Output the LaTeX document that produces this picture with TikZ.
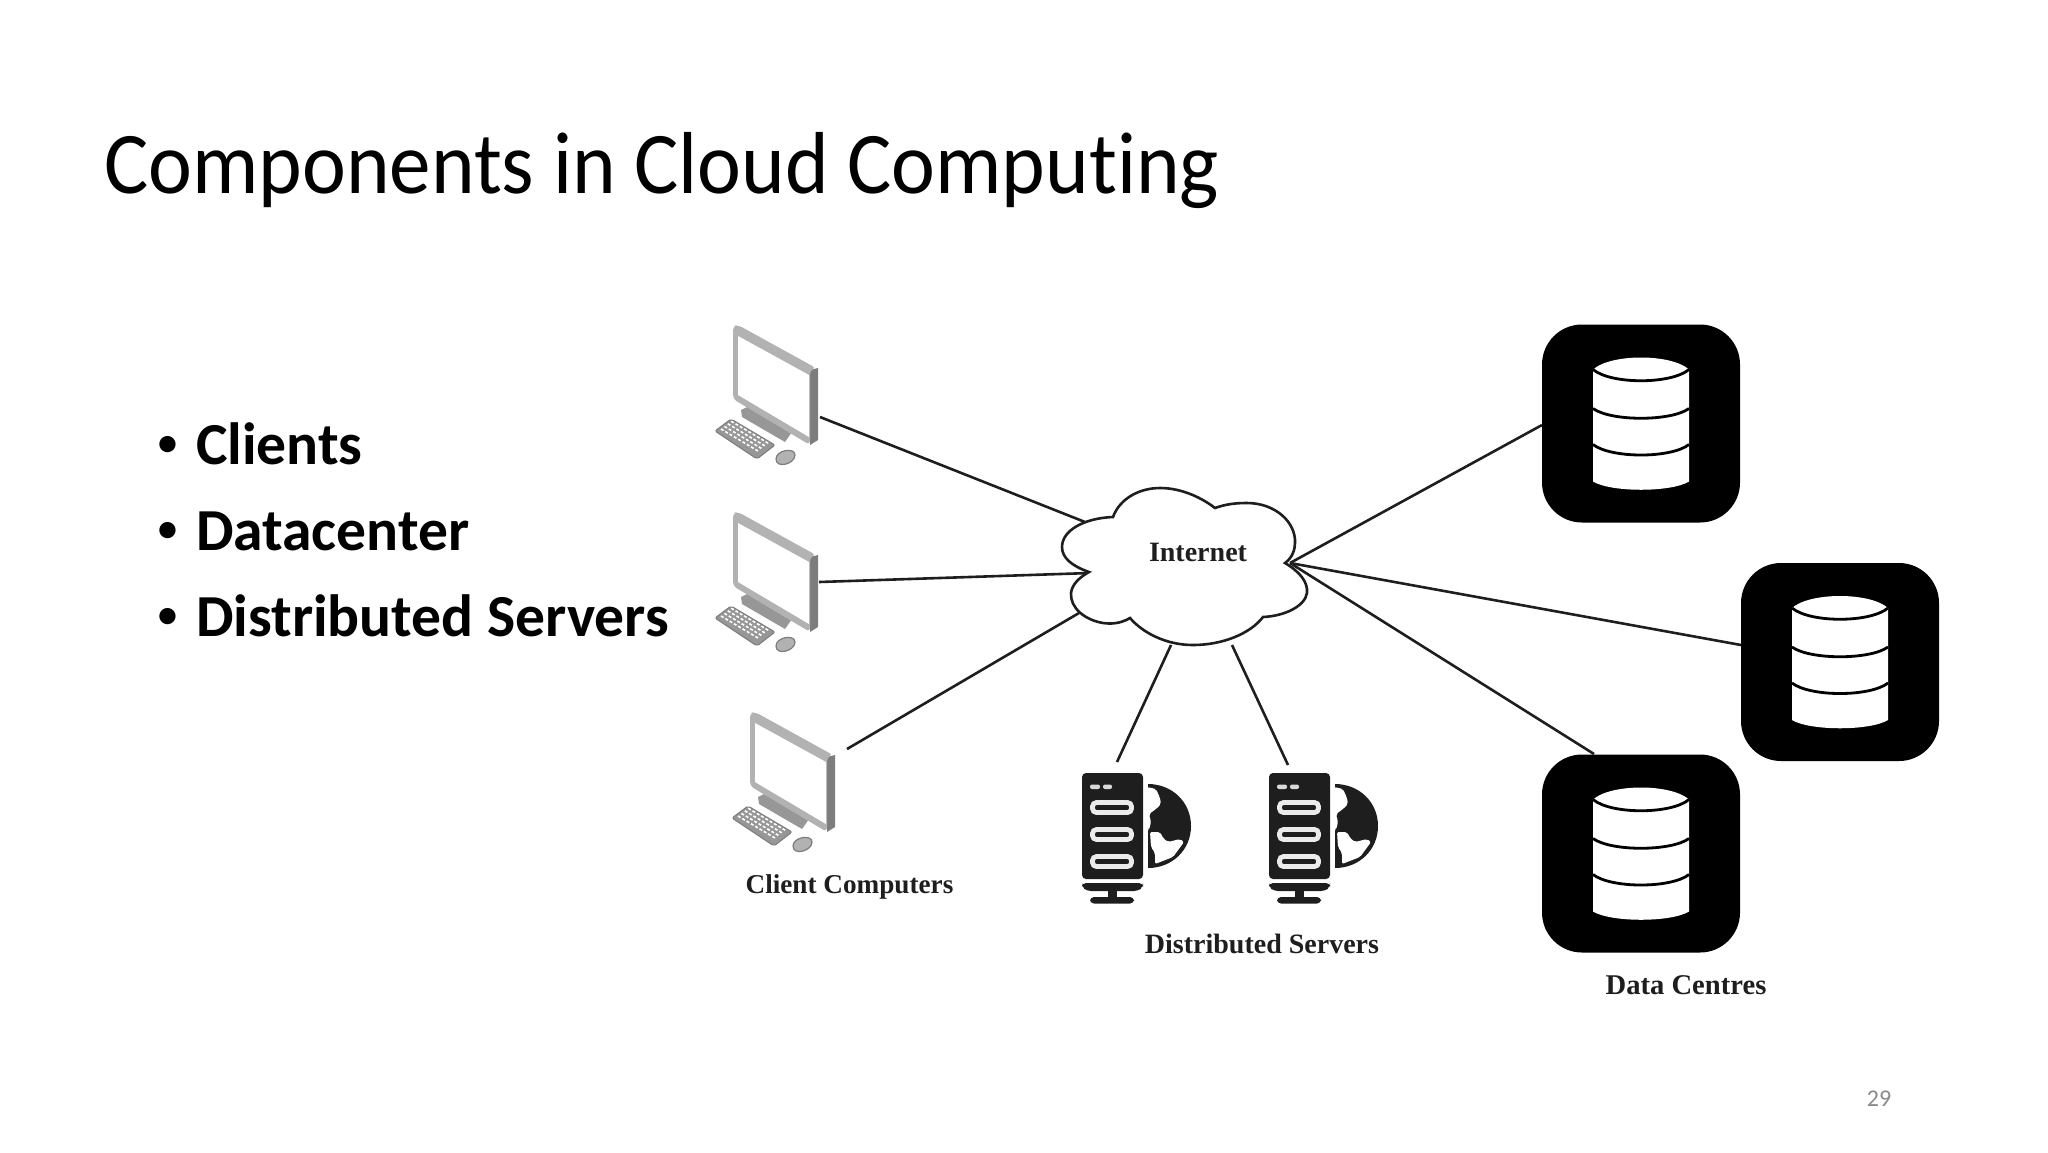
\documentclass[tikz,border=0pt]{standalone}
\usepackage{fontspec}
\setmainfont[Ligatures=NoCommon]{Carlito}
\newfontfamily\titlefont[FakeStretch=0.944,Ligatures=NoCommon]{Carlito}
\newfontfamily\labelfont{Liberation Serif}
\definecolor{pagegrey}{RGB}{137,137,137}
\definecolor{bezelgrey}{RGB}{178,178,178}
\definecolor{sidegrey}{RGB}{125,125,125}
\definecolor{darkblack}{RGB}{30,30,30}
\newcommand{\itembullet}{\makebox[18.8pt][l]{\hspace{-1.2pt}\raisebox{3.2pt}{\mdseries\fontsize{23}{26}\selectfont\textbullet}}}
\tikzset{
  connector/.style={line width=1.3pt,draw=darkblack},
  figlabel/.style={font=\labelfont\bfseries\fontsize{14}{16}\selectfont,text=darkblack,inner sep=0pt},
  bulletitem/.style={anchor=base west,inner sep=0pt,font=\fontsize{29.8}{34}\selectfont\bfseries},
  dbbox/.style={rectangle,fill=black,rounded corners=20pt,minimum size=99pt,inner sep=0pt},
  dbicon/.pic={
    \fill[white] (-48,-54) .. controls (-30,-70) and (30,-70) .. (48,-54) -- (48,58)
      .. controls (30,69) and (-30,69) .. (-48,58) -- cycle;
    \draw[line width=1.4pt,black] (-48,-54) .. controls (-30,-39) and (30,-39) .. (48,-54);
    \draw[line width=1.4pt,black] (-48,-15) .. controls (-30,-2) and (30,-2) .. (48,-15);
    \draw[line width=1.4pt,black] (-48,21) .. controls (-30,35) and (30,35) .. (48,21);
  },
  clientpic/.pic={
    % stand
    \fill[sidegrey!80] (41,102) -- (47,99) -- (92,124) -- (85,134) -- (42,109) -- cycle;
    % keyboard
    \fill[bezelgrey!85!black,draw=sidegrey,line width=.5pt,rounded corners=1pt] (15,123) -- (31,111) -- (75,137) -- (57,151) -- cycle;
    \foreach \r in {0,1,2,3}
      \draw[white,line width=.8pt,dash pattern=on 1.5pt off 1pt] ({21+\r*3.4},{121-\r*2.6}) -- ({58+\r*3.4},{143-\r*2.6});
    % mouse
    \fill[bezelgrey,draw=sidegrey,line width=.6pt] (76,151) .. controls (76,142) and (95,139) .. (95,147)
      .. controls (95,156) and (76,161) .. (76,151) -- cycle;
    % monitor
    \fill[sidegrey] (110,62) -- (118,60) -- (118,132) -- (110,137) -- cycle;
    \fill[bezelgrey,rounded corners=2pt] (33,18) -- (38,17) -- (116,60) -- (110,62) -- (110,137) -- (33,91) -- cycle;
    \fill[white] (38,28) -- (109,67) -- (109,129) -- (38,87) -- cycle;
  },
  serverpic/.pic={
    % case
    \fill[darkblack,rounded corners=2pt] (22,13) rectangle (83,119);
    \fill[white!85!black,rounded corners=1pt] (30,24.5) rectangle (40,29);
    \fill[white!85!black,rounded corners=1pt] (43,24.5) rectangle (52,29);
    \foreach \y in {42.5,69.5,96.5}{
      \draw[white!92!black,line width=2.4pt,rounded corners=2pt] (32.5,\y) rectangle (71.5,\y+10);
    }
    % base
    \fill[darkblack,rounded corners=2pt] (22,123) -- (83,123) -- (83,127) -- (78,131) -- (27,131) -- (22,127) -- cycle;
    \fill[darkblack] (48,131) rectangle (57,137);
    \fill[darkblack,rounded corners=2pt] (30,137) rectangle (74,143.5);
    % globe
    \fill[darkblack] (88,24) .. controls (112,24) and (131,42) .. (131,66)
      .. controls (131,90) and (112,108) .. (88,108) -- cycle;
    \fill[white,rounded corners=1pt] (87,27) -- (96,29) -- (100,38) -- (101,44) -- (96,49) -- (89,54) -- (91,62) -- (89,70) -- (87,70) -- cycle;
    \fill[white,rounded corners=1pt] (90,72) -- (100,72) -- (103,78) -- (108,82) -- (120,79) -- (124,82) -- (113,97) -- (95,104) -- (95,93) -- (91,87) -- cycle;
  }
}
\begin{document}
\begin{tikzpicture}[x=0.5pt,y=-0.5pt]
\useasboundingbox (0,0) rectangle (2048,1152);
% slide text
\node[anchor=base west,inner sep=0pt,font=\titlefont\fontsize{44}{50}\selectfont] (title)
  at (104,193) {Components in Cloud Computing};
\node[bulletitem] (item1) at (158,464) {\itembullet Clients};
\node[bulletitem] (item2) at (158,550) {\itembullet Datacenter};
\node[bulletitem] (item3) at (158,636) {\itembullet Distributed Servers};
\node[anchor=center,inner sep=0pt,text=pagegrey,font=\fontsize{12}{14}\selectfont] (pagenum)
  at (1879,1099) {29};

% connector ends
\coordinate (client1end) at (820,417);
\coordinate (client2end) at (819,582);
\coordinate (client3end) at (847,749);
\coordinate (server1end) at (1117,762);
\coordinate (server2end) at (1288,765);
\coordinate (db1end) at (1542,425);
\coordinate (db2end) at (1741,645);
\coordinate (db3end) at (1594,754);
\coordinate (cloudA) at (1085,522);
\coordinate (cloudB) at (1090,573);
\coordinate (cloudC) at (1079,613);
\coordinate (cloudD) at (1171,645);
\coordinate (cloudE) at (1232,645);
\coordinate (cloudF) at (1290,563);

\draw[connector] (client1end) -- (cloudA);
\draw[connector] (client2end) -- (cloudB);
\draw[connector] (client3end) -- (cloudC);
\draw[connector] (server1end) -- (cloudD);
\draw[connector] (server2end) -- (cloudE);
\draw[connector] (db1end) -- (cloudF);
\draw[connector] (db2end) -- (cloudF);
\draw[connector] (db3end) -- (cloudF);

% cloud
\draw[line width=1.3pt,draw=darkblack,fill=white] (1089,572)
  .. controls (1072,566) and (1062,558) .. (1062,547)
  .. controls (1062,530) and (1085,518) .. (1113,517)
  .. controls (1120,498) and (1140,488) .. (1160,488)
  .. controls (1182,488) and (1202,498) .. (1215,508)
  .. controls (1226,504) and (1236,503) .. (1247,503)
  .. controls (1275,503) and (1296,522) .. (1295,543)
  .. controls (1295,550) and (1292,558) .. (1285,563)
  .. controls (1300,572) and (1308,582) .. (1307,593)
  .. controls (1305,606) and (1285,616) .. (1263,617)
  .. controls (1250,634) and (1222,645) .. (1193,645)
  .. controls (1165,645) and (1142,632) .. (1130,618)
  .. controls (1120,624) and (1110,624) .. (1103,623)
  .. controls (1085,620) and (1070,608) .. (1071,593)
  .. controls (1072,584) and (1080,577) .. (1089,572) -- cycle;
\node[figlabel] (internet) at (1198,552) {Internet};

% clients
\pic at (700,308) {clientpic};
\pic at (700,495) {clientpic};
\pic at (717,695) {clientpic};
\node[figlabel,font=\labelfont\bfseries\fontsize{13.6}{16}\selectfont] (clientlabel) at (849.5,887) {Client Computers};

% servers
\pic at (1060,760) {serverpic};
\pic at (1247,760) {serverpic};
\node[figlabel] (serverlabel) at (1262,944) {Distributed Servers};

% data centres
\node[dbbox] (db1) at (1641,423.5) {};
\pic at (db1) {dbicon};
\node[dbbox] (db2) at (1840,662) {};
\pic at (db2) {dbicon};
\node[dbbox] (db3) at (1641,853.5) {};
\pic at (db3) {dbicon};
\node[figlabel,font=\labelfont\bfseries\fontsize{14.3}{16}\selectfont] (dblabel) at (1686,985.5) {Data Centres};
\end{tikzpicture}
\end{document}
